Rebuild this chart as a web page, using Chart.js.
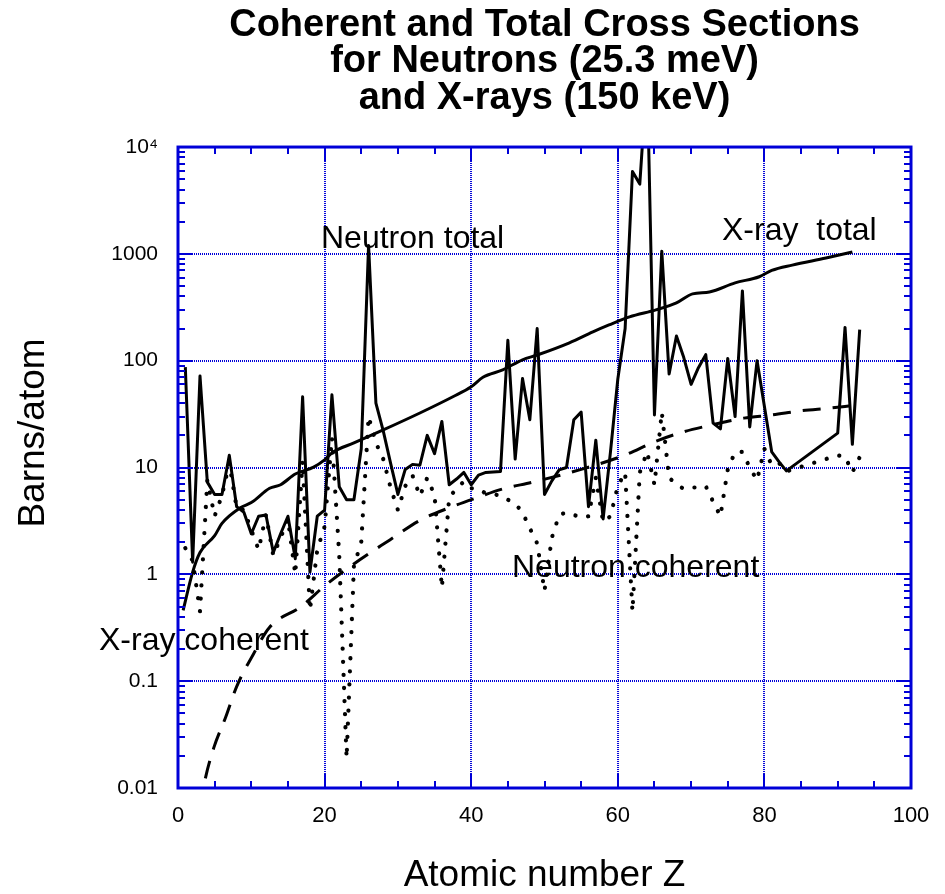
<!DOCTYPE html>
<html lang="en">
<head>
<meta charset="UTF-8">
<title>Coherent and Total Cross Sections</title>
<script src="https://cdn.jsdelivr.net/npm/chart.js"></script>
<style>
  html, body { margin: 0; padding: 0; background: #fff; }
  #wrap { width: 945px; height: 894px; }
</style>
</head>
<body>
<div id="wrap"><canvas id="xsChart" width="945" height="894"></canvas></div>
<script>
// atomic numbers plotted (Po..Ac missing in the source data)
const elementZ = [
   1,  2,  3,  4,  5,  6,  7,  8,  9, 10,
  11, 12, 13, 14, 15, 16, 17, 18, 19, 20,
  21, 22, 23, 24, 25, 26, 27, 28, 29, 30,
  31, 32, 33, 34, 35, 36, 37, 38, 39, 40,
  41, 42, 43, 44, 45, 46, 47, 48, 49, 50,
  51, 52, 53, 54, 55, 56, 57, 58, 59, 60,
  61, 62, 63, 64, 65, 66, 67, 68, 69, 70,
  71, 72, 73, 74, 75, 76, 77, 78, 79, 80,
  81, 82, 83, 90, 91, 92, 93
];

// neutron total cross section, barns (null = no point)
const neutronTotal = [
  87, 1.3, 72, 7.3, 5.6, 5.6, 13, 4.3, 3.8, 2.4,
  3.5, 3.6, 1.6, 2.4, 3.5, 1.4, 46, 1.05, 3.5, 4.0,
  48, 6.6, 5.0, 5.0, 15, 1200, 40, 22, 11, 5.6,
  9.6, 10.7, 10.5, 20, 13.5, 27, 6.9, 7.8, 9.0, 6.9,
  8.5, 9.0, null, 9.2, 155, 12, 68, 28, 200, 5.6,
  7.5, 9.5, 10, 28, 33, 4.3, 18, 3.3, 14, 67,
  200, 5900, 4500, 49000, 31, 1060, 75, 170, 107, 60,
  86, 114, 26, 23, 105, 30, 450, 24, 100, null,
  14, 11.3, 9.3, 21, 205, 16.5, 195
];

// neutron coherent cross section, barns
const neutronCoherent = [
  1.76, 1.34, 0.45, 7.6, 3.5, 5.5, 11, 4.2, 4.0, 2.6,
  1.7, 3.6, 1.5, 2.2, 3.3, 1.0, 11.5, 0.46, 1.7, 2.8,
  19, 1.5, 0.019, 1.2, 2.0, 30, 17, 12, 6.5, 4.0,
  6.7, 8.4, 5.4, 8.0, 5.5, 0.75, 5.3, 6.3, 7.4, 6.4,
  6.3, 5.7, null, 5.5, 5.0, 4.6, 3.8, 2.7, 1.95, 0.7,
  2.2, 3.6, 3.8, 3.6, 3.4, 3.5, 8.0, 3.1, 3.5, 6.7,
  9.0, 0.45, 9.0, 14, 6.9, 33, 8.0, 7.0, 6.3, 6.5,
  6.5, 6.7, 4.8, 3.5, 9.6, 14, 14, 10, 7.6, 15,
  10.5, 11, 9.2, 13, 12.7, 9.0, 12.5
];

// X-ray (150 keV) total
const xrayTotalZ = [0.7, 2, 3, 5, 6, 8.5, 10, 12.5, 14, 16, 18.5, 20, 21, 24, 28, 33, 37.5, 40,
  41.6, 44.3, 47, 49, 53.4, 56.6, 58.8, 61.6, 65.2, 68, 70.2, 72.5, 76, 79.3, 81, 83.8, 88.4, 92];
const xrayTotal = [0.46, 1.05, 1.6, 2.3, 3.0, 4.2, 4.7, 6.4, 6.9, 8.7, 10.1, 11.8, 13.7, 17, 22.5, 32.4, 46, 57,
  70, 82, 102, 113, 147, 186, 216, 257, 299, 347, 422, 440, 535, 611, 700, 785, 914, 1040];

// X-ray (150 keV) coherent
const xrayCohZ = [3, 3.7, 4.9, 6.5, 8, 10.3, 12.5, 16.8, 20.2, 24.8, 28.9, 33, 37, 40.7, 44.3, 48.4,
  55, 61, 65, 69, 72.8, 77.2, 81, 85, 89, 92];
const xrayCoherent = [0.0065, 0.012, 0.024, 0.046, 0.089, 0.18, 0.32, 0.5, 0.8, 1.37, 2.1, 3.2, 4.2, 5.2, 6.3, 7.3,
  9.6, 13.1, 17.4, 21.6, 25, 29, 31, 34, 36, 38];

const yTicks = [0.01, 0.1, 1, 10, 100, 1000, 10000];
const yTickLabels = ['0.01', '0.1', '1', '10', '100', '1000', '10\u2074'];
const xTicks = [0, 20, 40, 60, 80, 100];

const FONT = "'Liberation Sans', Arial, Helvetica, sans-serif";
const BLUE = '#0000d8';

function pts(xs, ys) {
  return xs.map((z, i) => ({ x: z, y: ys[i] }));
}

// minor/major ticks drawn inside the frame, plus the frame itself
const frameTicks = {
  id: 'frameTicks',
  afterDraw(chart) {
    const { ctx, chartArea: a, scales: { x, y } } = chart;
    ctx.save();
    ctx.strokeStyle = BLUE;
    ctx.lineWidth = 2;
    ctx.beginPath();
    for (let v = 0; v <= 100; v += 5) {
      const px = Math.round(x.getPixelForValue(v));
      const len = v % 20 === 0 ? 14 : 7;
      ctx.moveTo(px, a.bottom); ctx.lineTo(px, a.bottom - len);
      ctx.moveTo(px, a.top); ctx.lineTo(px, a.top + len);
    }
    for (let d = -2; d < 4; d++) {
      for (let m = 1; m < 10; m++) {
        const py = Math.round(y.getPixelForValue(m * Math.pow(10, d)));
        const len = m === 1 ? 14 : 7;
        ctx.moveTo(a.left, py); ctx.lineTo(a.left + len, py);
        ctx.moveTo(a.right, py); ctx.lineTo(a.right - len, py);
      }
    }
    ctx.stroke();
    ctx.lineWidth = 3;
    ctx.strokeRect(a.left, a.top, a.right - a.left, a.bottom - a.top);
    ctx.restore();
  }
};

// curve labels and the rotated y title
const curveLabels = {
  id: 'curveLabels',
  afterDraw(chart) {
    const { ctx } = chart;
    ctx.save();
    ctx.fillStyle = '#000';
    ctx.font = '32px ' + FONT;
    ctx.textBaseline = 'alphabetic';
    ctx.textAlign = 'left';
    ctx.fillText('Neutron total', 321, 248);
    ctx.fillText('X-ray  total', 722, 240);
    ctx.fillText('Neutron coherent', 512, 577);
    ctx.fillText('X-ray coherent', 99, 650);

    ctx.translate(34, 433);
    ctx.rotate(-Math.PI / 2);
    ctx.font = '37px ' + FONT;
    ctx.textAlign = 'center';
    ctx.textBaseline = 'middle';
    ctx.fillText('Barns/atom', 0, 0);
    ctx.restore();
  }
};

new Chart(document.getElementById('xsChart'), {
  type: 'line',
  data: {
    datasets: [
      {
        label: 'Neutron total',
        data: pts(elementZ, neutronTotal),
        borderColor: '#000',
        borderWidth: 3,
        borderJoinStyle: 'round',
        pointRadius: 0,
        spanGaps: true,
        tension: 0
      },
      {
        label: 'Neutron coherent',
        data: pts(elementZ, neutronCoherent),
        borderColor: '#000',
        borderWidth: 4.2,
        borderDash: [0.1, 13],
        borderCapStyle: 'round',
        pointRadius: 0,
        spanGaps: true,
        tension: 0
      },
      {
        label: 'X-ray total',
        data: pts(xrayTotalZ, xrayTotal),
        borderColor: '#000',
        borderWidth: 3,
        pointRadius: 0,
        cubicInterpolationMode: 'monotone'
      },
      {
        label: 'X-ray coherent',
        data: pts(xrayCohZ, xrayCoherent),
        borderColor: '#000',
        borderWidth: 3,
        borderDash: [18, 12],
        pointRadius: 0,
        cubicInterpolationMode: 'monotone'
      }
    ]
  },
  options: {
    responsive: false,
    animation: false,
    layout: { padding: { left: 0, right: 34, top: 0, bottom: 0 } },
    plugins: {
      legend: { display: false },
      tooltip: { enabled: false },
      title: {
        display: true,
        fullSize: false,
        text: ['Coherent and Total Cross Sections', 'for Neutrons (25.3 meV)', 'and X-rays (150 keV)'],
        color: '#000',
        font: { family: FONT, size: 38, weight: 'bold', lineHeight: 0.96 },
        padding: { top: 7, bottom: 30.6 }
      }
    },
    scales: {
      x: {
        type: 'linear',
        min: 0,
        max: 100,
        afterBuildTicks: s => { s.ticks = xTicks.map(v => ({ value: v })); },
        afterFit: s => { s.height = 106; },
        ticks: {
          color: '#000',
          font: { family: FONT, size: 22 },
          padding: 15,
          maxRotation: 0
        },
        grid: { color: BLUE, lineWidth: 2, drawTicks: false },
        border: { display: false, dash: [1, 1] },
        title: {
          display: true,
          text: 'Atomic number Z',
          color: '#000',
          font: { family: FONT, size: 37, lineHeight: 1 },
          padding: { top: 0, bottom: 0 }
        }
      },
      y: {
        type: 'logarithmic',
        min: 0.01,
        max: 10000,
        afterBuildTicks: s => { s.ticks = yTicks.map(v => ({ value: v })); },
        afterFit: s => { s.width = 178; },
        ticks: {
          color: '#000',
          font: { family: FONT, size: 21 },
          padding: 20,
          callback: v => yTickLabels[yTicks.indexOf(v)]
        },
        grid: { color: BLUE, lineWidth: 2, drawTicks: false },
        border: { display: false, dash: [1, 1] }
      }
    }
  },
  plugins: [frameTicks, curveLabels]
});
</script>
</body>
</html>
